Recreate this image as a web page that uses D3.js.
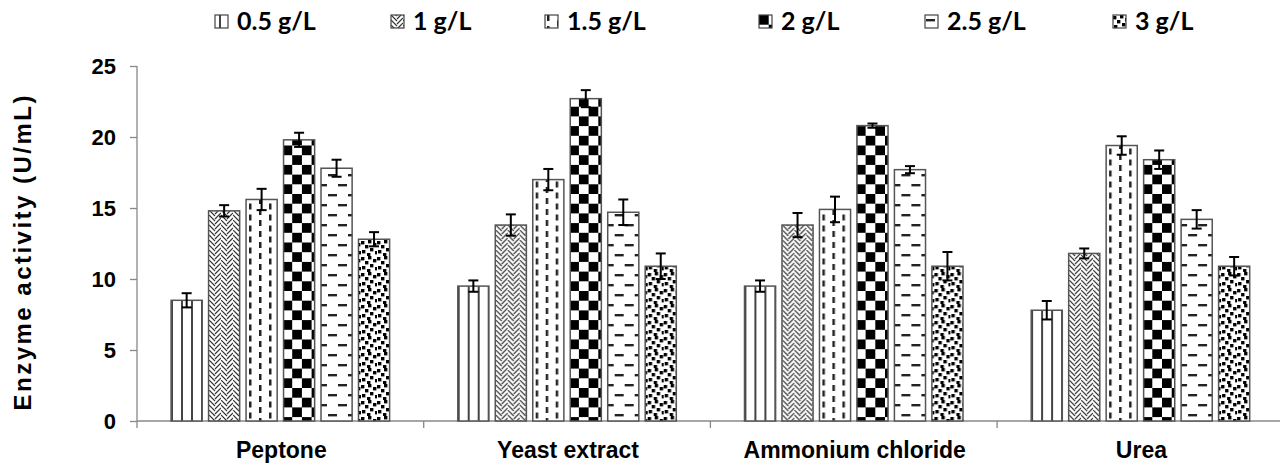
<!DOCTYPE html>
<html>
<head>
<meta charset="utf-8">
<script src="https://cdn.jsdelivr.net/npm/d3@7/dist/d3.min.js"></script>
<style>
  html, body { margin: 0; padding: 0; background: #fff; }
  svg { display: block; }
</style>
</head>
<body>
<svg id="chart" width="1280" height="466"></svg>
<script>
// ---------------- DATA ----------------
const categories = ["Peptone", "Yeast extract", "Ammonium chloride", "Urea"];
const seriesNames = ["0.5 g/L", "1 g/L", "1.5 g/L", "2 g/L", "2.5 g/L", "3 g/L"];
const conc05 = [8.5, 9.5, 9.5, 7.8];
const conc1  = [14.8, 13.8, 13.8, 11.8];
const conc15 = [15.6, 17.0, 14.9, 19.4];
const conc2  = [19.8, 22.7, 20.8, 18.4];
const conc25 = [17.8, 14.7, 17.7, 14.2];
const conc3  = [12.8, 10.9, 10.9, 10.9];
const err05 = [0.5, 0.4, 0.4, 0.65];
const err1  = [0.4, 0.75, 0.85, 0.35];
const err15 = [0.75, 0.75, 0.9, 0.65];
const err2  = [0.5, 0.6, 0.15, 0.65];
const err25 = [0.6, 0.9, 0.25, 0.65];
const err3  = [0.5, 0.9, 1.0, 0.65];
const yTicks = [0, 5, 10, 15, 20, 25];
const yTitle = "Enzyme  activity (U/mL)";

const seriesValues = [conc05, conc1, conc15, conc2, conc25, conc3];
const seriesErrors = [err05, err1, err15, err2, err25, err3];
const patternIds = ["pVert", "pWeave", "pDashV", "pCheck", "pDashH", "pConf"];

// ---------------- LAYOUT ----------------
const svg = d3.select("#chart");
const plotLeft = 137, plotTop = 66, plotBottom = 421, bandW = 286.7;
const x0 = d3.scaleBand().domain(categories)
  .range([plotLeft, plotLeft + bandW * categories.length]).padding(0);
const groupW = 218.5;
const x1 = d3.scaleBand().domain(seriesNames)
  .range([(bandW - groupW) / 2, (bandW + groupW) / 2])
  .paddingInner(0.17).paddingOuter(0);
const y = d3.scaleLinear().domain([0, 25]).range([plotBottom, plotTop]);

// ---------------- PATTERNS ----------------
const defs = svg.append("defs");
const ink = "#222";
function pat(id, w, h) {
  return defs.append("pattern").attr("id", id).attr("patternUnits", "userSpaceOnUse")
    .attr("width", w).attr("height", h);
}
// vertical lines
let p = pat("pVert", 10, 10);
p.append("rect").attr("width", 10).attr("height", 10).attr("fill", "#fff");
p.append("rect").attr("x", 4).attr("width", 2).attr("height", 10).attr("fill", "#444");
// herringbone / weave
p = pat("pWeave", 12, 10);
p.append("rect").attr("width", 12).attr("height", 10).attr("fill", "#fff");
p.append("path")
  .attr("d", "M0,-5 L6,1 M0,0 L6,6 M0,5 L6,11 M6,-1 L12,-7 M6,4 L12,-2 M6,9 L12,3 M6,14 L12,8")
  .attr("stroke", "#333").attr("stroke-width", 1.2).attr("fill", "none");
// dashed vertical
p = pat("pDashV", 20, 22);
p.append("rect").attr("width", 20).attr("height", 22).attr("fill", "#fff");
p.append("rect").attr("x", 2).attr("y", 0).attr("width", 2.5).attr("height", 6).attr("fill", ink);
p.append("rect").attr("x", 2).attr("y", 11).attr("width", 2.5).attr("height", 6).attr("fill", ink);
p.append("rect").attr("x", 12).attr("y", 5.5).attr("width", 2.5).attr("height", 6).attr("fill", ink);
p.append("rect").attr("x", 12).attr("y", 16.5).attr("width", 2.5).attr("height", 6).attr("fill", ink);
p.append("rect").attr("x", 12).attr("y", -5.5).attr("width", 2.5).attr("height", 6).attr("fill", ink);
// checkerboard
p = pat("pCheck", 19.4, 19.4);
p.append("rect").attr("width", 19.4).attr("height", 19.4).attr("fill", "#fff");
p.append("rect").attr("width", 9.7).attr("height", 9.7).attr("fill", "#000");
p.append("rect").attr("x", 9.7).attr("y", 9.7).attr("width", 9.7).attr("height", 9.7).attr("fill", "#000");
// dashed horizontal
p = pat("pDashH", 20, 20);
p.append("rect").attr("width", 20).attr("height", 20).attr("fill", "#fff");
p.append("rect").attr("x", 1).attr("y", 4).attr("width", 9).attr("height", 2.4).attr("fill", ink);
p.append("rect").attr("x", 11).attr("y", 14).attr("width", 9).attr("height", 2.4).attr("fill", ink);
// confetti
p = pat("pConf", 16, 16);
p.append("rect").attr("width", 16).attr("height", 16).attr("fill", "#fff");
[[0,1],[7,0],[12,3],[4,5],[9,8],[1,10],[14,11],[6,13]].forEach(([a,b]) =>
  p.append("rect").attr("x", a).attr("y", b).attr("width", 3.4).attr("height", 3.4).attr("fill", "#000"));

// ---------------- AXES ----------------
const axisColor = "#888";
const yAxis = svg.append("g").attr("transform", `translate(${plotLeft},0)`)
  .call(d3.axisLeft(y).tickValues(yTicks).tickSize(7).tickPadding(14).tickFormat(d3.format("d")));
yAxis.select(".domain").attr("stroke", axisColor).attr("stroke-width", 1.3).attr("d", `M0,${plotTop}V${plotBottom}`);
yAxis.selectAll(".tick line").attr("stroke", axisColor).attr("stroke-width", 1.3);
yAxis.selectAll(".tick text")
  .attr("font-family", "'Liberation Sans', Arial, sans-serif")
  .attr("font-weight", "bold").attr("font-size", 22).attr("fill", "#000");

const xg = svg.append("g");
xg.append("line").attr("x1", plotLeft).attr("x2", 1280).attr("y1", plotBottom).attr("y2", plotBottom)
  .attr("stroke", axisColor).attr("stroke-width", 1.3);
xg.selectAll("line.tk").data(categories).enter().append("line").attr("class", "tk")
  .attr("x1", d => x0(d)).attr("x2", d => x0(d))
  .attr("y1", plotBottom).attr("y2", plotBottom + 7)
  .attr("stroke", axisColor).attr("stroke-width", 1.3);
xg.append("line")
  .attr("x1", x0(categories[3]) + x0.bandwidth()).attr("x2", x0(categories[3]) + x0.bandwidth())
  .attr("y1", plotBottom).attr("y2", plotBottom + 7).attr("stroke", axisColor).attr("stroke-width", 1.3);
xg.selectAll("text").data(categories).enter().append("text")
  .attr("x", d => x0(d) + x0.bandwidth() / 2 + 1).attr("y", 458)
  .attr("text-anchor", "middle")
  .attr("font-family", "'Liberation Sans', Arial, sans-serif")
  .attr("font-weight", "bold").attr("font-size", 23).attr("fill", "#000")
  .text(d => d);

svg.append("text")
  .attr("transform", "translate(31,253) rotate(-90)")
  .attr("text-anchor", "middle")
  .attr("font-family", "'Liberation Sans', Arial, sans-serif")
  .attr("font-weight", "bold").attr("font-size", 24).attr("fill", "#000")
  .attr("textLength", 315).attr("lengthAdjust", "spacing")
  .text(yTitle);

// ---------------- BARS ----------------
const groups = svg.append("g").selectAll("g").data(categories).enter().append("g")
  .attr("transform", d => `translate(${x0(d)},0)`);

seriesNames.forEach((s, si) => {
  groups.append("rect")
    .attr("x", x1(s))
    .attr("y", (d, ci) => y(seriesValues[si][ci]))
    .attr("width", x1.bandwidth())
    .attr("height", (d, ci) => y(0) - y(seriesValues[si][ci]))
    .attr("fill", `url(#${patternIds[si]})`)
    .attr("stroke", "#555").attr("stroke-width", 1.5);
});
seriesNames.forEach((s, si) => {
  const cx = x1(s) + x1.bandwidth() / 2;
  const eb = groups.append("g").attr("stroke", "#000").attr("stroke-width", 2);
  const hi = (d, ci) => y(seriesValues[si][ci] + seriesErrors[si][ci]);
  const lo = (d, ci) => y(seriesValues[si][ci] - seriesErrors[si][ci]);
  eb.append("line").attr("x1", cx).attr("x2", cx).attr("y1", hi).attr("y2", lo);
  eb.append("line").attr("x1", cx - 5).attr("x2", cx + 5).attr("y1", hi).attr("y2", hi);
  eb.append("line").attr("x1", cx - 5).attr("x2", cx + 5).attr("y1", lo).attr("y2", lo);
});

// ---------------- LEGEND ----------------
const legendX = [215, 391, 545, 759, 925, 1113];
const lg = svg.append("g").selectAll("g").data(seriesNames).enter().append("g")
  .attr("transform", (d, i) => `translate(${legendX[i]},15)`);
lg.append("rect").attr("width", 13).attr("height", 13)
  .attr("fill", (d, i) => `url(#${patternIds[i]})`)
  .attr("stroke", "#444").attr("stroke-width", 1.2);
lg.append("text").attr("x", 22).attr("y", 15)
  .attr("font-family", "Lato, 'Open Sans', sans-serif")
  .attr("font-weight", "bold").attr("font-size", 25).attr("fill", "#000")
  .text(d => d);
</script>
</body>
</html>
